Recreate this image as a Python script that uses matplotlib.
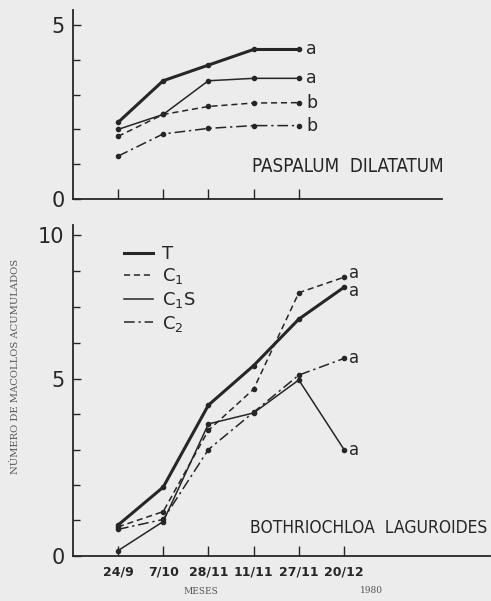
import numpy as np
import matplotlib
matplotlib.use("Agg")
import matplotlib.pyplot as plt
from matplotlib.lines import Line2D

# fechas de muestreo
dates = ["24/9", "7/10", "28/11", "11/11", "27/11", "20/12"]

# Paspalum dilatatum (5 fechas)
pd_T = [2.2, 3.4, 3.85, 4.3, 4.3]
pd_C1S = [2.0, 2.43, 3.4, 3.47, 3.47]
pd_C1 = [1.8, 2.43, 2.66, 2.76, 2.77]
pd_C2 = [1.23, 1.87, 2.03, 2.11, 2.11]
pd_letters = ["a", "a", "b", "b"]

# Bothriochloa laguroides (6 fechas)
bl_T = [0.87, 1.94, 4.25, 5.45, 7.07, 8.18]
bl_C1 = [0.82, 1.25, 3.54, 4.7, 7.99, 8.53]
bl_C1S = [0.15, 0.97, 3.72, 4.03, 4.96, 3.0]
bl_C2 = [0.75, 1.03, 3.0, 4.05, 5.12, 5.7]
bl_letters = ["a", "a", "a", "a"]

ink = "#262626"
bg = "#ececec"
plt.rcParams['font.family'] = ['DejaVu Sans']

fig = plt.figure(figsize=(4.91, 6.01), dpi=100, facecolor=bg)
ax1 = fig.add_axes([0.1487, 0.669, 0.7513, 0.314])
ax2 = fig.add_axes([0.1487, 0.0749, 0.8493, 0.5507])

styles = {
    "T": dict(ls="-", lw=2.2),
    "C1": dict(ls=(0, (4, 2.5)), lw=1.1),
    "C1S": dict(ls="-", lw=1.1),
    "C2": dict(ls=(0, (7, 2.5, 1.5, 2.5)), lw=1.1),
}


def style_axes(ax):
    ax.set_facecolor(bg)
    for s in ["top", "right"]:
        ax.spines[s].set_visible(False)
    for s in ["left", "bottom"]:
        ax.spines[s].set_color(ink)
        ax.spines[s].set_linewidth(1.3)
    ax.tick_params(axis="both", which="both", direction="in", colors=ink,
                   width=1.0, labelsize=15)
    ax.tick_params(axis="y", which="major", length=6, pad=6)
    ax.tick_params(axis="y", which="minor", length=5)
    ax.tick_params(axis="x", length=7, labelsize=9, pad=7)


# --- panel superior ---
x5 = np.arange(5)
for key, vals in zip(["T", "C1S", "C1", "C2"], [pd_T, pd_C1S, pd_C1, pd_C2]):
    ax1.plot(x5, vals, color=ink, marker="o", ms=3, **styles[key])
for vals, let in zip([pd_T, pd_C1S, pd_C1, pd_C2], pd_letters):
    ax1.text(x5[-1] + 0.17, vals[-1], let, fontsize=12.5, color=ink, va="center")
ax1.set_xlim(-0.995, 7.17)
ax1.set_ylim(0, 5.43)
ax1.set_yticks([0, 5])
ax1.set_yticks([1, 2, 3, 4], minor=True)
ax1.set_xticks(x5)
ax1.set_xticklabels([])
style_axes(ax1)
ax1.text(0.485, 0.145, "PASPALUM  DILATATUM", transform=ax1.transAxes,
         fontsize=13.5, color=ink, fontstretch="condensed")

# --- panel inferior: escala comprimida por encima de 5 ---
k = 28.7 / 35.5


def fwd(v):
    v = np.asarray(v, dtype=float)
    return np.where(v <= 5, v, 5 + (v - 5) * k)


def inv(u):
    u = np.asarray(u, dtype=float)
    return np.where(u <= 5, u, 5 + (u - 5) / k)


ax2.set_yscale("function", functions=(fwd, inv))
x6 = np.arange(6)
handles = []
for key, lab, vals in zip(["T", "C1", "C1S", "C2"],
                          ["T", "C$_1$", "C$_1$S", "C$_2$"],
                          [bl_T, bl_C1, bl_C1S, bl_C2]):
    ax2.plot(x6, vals, color=ink, marker="o", ms=3, **styles[key])
    handles.append(Line2D([], [], color=ink, label=lab, **styles[key]))
offs = {0: -0.14, 1: 0.16, 2: 0, 3: 0}
for i, (vals, let) in enumerate(zip([bl_T, bl_C1, bl_C1S, bl_C2], bl_letters)):
    ax2.text(x6[-1] + 0.12, vals[-1] + offs[i], let, fontsize=12, color=ink, va="center")
ax2.set_xlim(-0.995, 8.23)
ax2.set_ylim(0, 10.35)
ax2.set_yticks([0, 5, 10])
ax2.set_yticks([1, 2, 3, 4, 6.25, 7.5, 8.75], minor=True)
ax2.set_xticks(x6)
ax2.set_xticklabels(dates, fontweight="bold")
style_axes(ax2)
ax2.text(0.425, 0.07, "BOTHRIOCHLOA  LAGUROIDES", transform=ax2.transAxes,
         fontsize=12.5, color=ink, fontstretch="condensed")
leg = ax2.legend(handles=handles, loc="upper left", bbox_to_anchor=(0.122, 0.94),
                 frameon=False, fontsize=13, handlelength=1.6, handletextpad=0.5,
                 labelspacing=0.2, borderaxespad=0, borderpad=0)
for t in leg.get_texts():
    t.set_color(ink)

fig.text(0.031, 0.391, "NÚMERO DE MACOLLOS ACUMULADOS", rotation=90, ha="center",
         va="center", fontsize=7.2, family="DejaVu Serif", color="#555555")
fig.text(0.41, 0.016, "MESES", ha="center", va="center", fontsize=6.5,
         family="DejaVu Serif", color="#555555")
fig.text(0.757, 0.018, "1980", ha="center", va="center", fontsize=6.5,
         family="DejaVu Serif", color="#555555")

fig.savefig("out.png", dpi=100, facecolor=bg)
